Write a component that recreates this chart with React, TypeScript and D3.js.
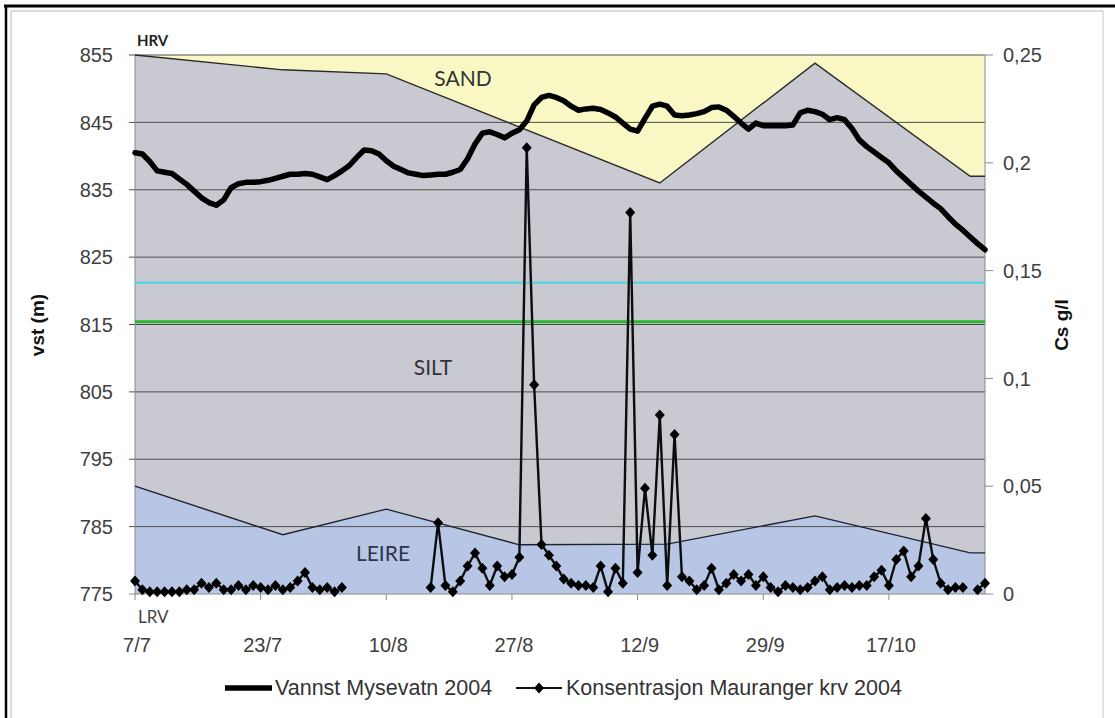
import React from 'react';
import * as d3 from 'd3';

// Daily water level, Mysevatn 2004 (m), one value per category from 7/7
const waterLevel = [
  840.5, 840.3, 839.2, 837.8, 837.6, 837.4, 836.6, 835.8, 834.8, 833.8,
  833.1, 832.7, 833.5, 835.3, 835.9, 836.1, 836.1, 836.2, 836.4, 836.7,
  837.0, 837.3, 837.3, 837.4, 837.3, 836.9, 836.5, 837.1, 837.8, 838.6,
  839.8, 840.9, 840.8, 840.3, 839.3, 838.5, 838.0, 837.5, 837.3, 837.1,
  837.2, 837.3, 837.3, 837.6, 838.0, 839.6, 841.8, 843.4, 843.6, 843.2,
  842.7, 843.4, 843.9, 845.2, 847.6, 848.7, 849.0, 848.7, 848.2, 847.4,
  846.8, 847.0, 847.1, 846.9, 846.4, 845.8, 844.9, 844.0, 843.7, 845.6,
  847.4, 847.7, 847.4, 846.1, 846.0, 846.1, 846.3, 846.6, 847.2, 847.3,
  846.8, 845.9, 844.9, 844.0, 844.9, 844.5, 844.5, 844.5, 844.5, 844.6,
  846.4, 846.8, 846.6, 846.2, 845.4, 845.7, 845.4, 844.1, 842.4, 841.4,
  840.6, 839.8, 839.0, 837.8, 836.8, 835.8, 834.8, 833.9, 833.0, 832.2,
  831.0, 829.9, 829.0, 828.0, 827.0, 826.1,
];

// Concentration Mauranger krv 2004 (g/l), null = no sample
const concentration = [
  0.006, 0.002, 0.001, 0.001, 0.001, 0.001, 0.001, 0.002, 0.002, 0.005,
  0.003, 0.005, 0.002, 0.002, 0.004, 0.002, 0.004, 0.003, 0.002, 0.004,
  0.002, 0.003, 0.006, 0.010, 0.003, 0.002, 0.003, 0.001, 0.003, null,
  null, null, null, null, null, null, null, null, null, null,
  0.003, 0.033, 0.004, 0.001, 0.006, 0.013, 0.019, 0.012, 0.004, 0.013,
  0.008, 0.009, 0.017, 0.207, 0.097, 0.023, 0.018, 0.013, 0.007, 0.005,
  0.004, 0.004, 0.003, 0.013, 0.001, 0.012, 0.005, 0.177, 0.010, 0.049,
  0.018, 0.083, 0.004, 0.074, 0.008, 0.006, 0.002, 0.004, 0.012, 0.002,
  0.005, 0.009, 0.006, 0.009, 0.004, 0.008, 0.003, 0.001, 0.004, 0.003,
  0.002, 0.003, 0.006, 0.008, 0.002, 0.003, 0.004, 0.003, 0.004, 0.004,
  0.008, 0.011, 0.004, 0.016, 0.020, 0.008, 0.013, 0.035, 0.016, 0.005,
  0.002, 0.003, 0.003, null, 0.002, 0.005,
];

// Zone boundaries: [category index, level m]
const sandBoundary = [[0, 855], [20, 852.8], [34, 852.2], [71, 836], [92, 853.8], [113, 837], [115, 837]];
const clayBoundary = [[0, 791], [20, 783.8], [34, 787.6], [52, 782.3], [72, 782.4], [92, 786.6], [113, 781.1], [115, 781.1]];

const cyanLevel = 821.2;
const greenLevel = 815.4;

const leftTicks = [775, 785, 795, 805, 815, 825, 835, 845, 855];
const rightTicks = [0, 0.05, 0.1, 0.15, 0.2, 0.25];
const dateLabels = ['7/7', '23/7', '10/8', '27/8', '12/9', '29/9', '17/10'];
const labelEvery = 17;

const ARIAL = '"Liberation Sans", Arial, sans-serif';
const CALIBRI = 'Lato, "Open Sans", sans-serif';

const diamond = 'M0,-5.5L5,0L0,5.5L-5,0Z';

export default function App() {
  const W = 1115, H = 718;
  const pl = 135, pr = 985, pt = 55, pb = 594;

  const x = d3.scaleLinear().domain([0, waterLevel.length - 1]).range([pl, pr]);
  const yL = d3.scaleLinear().domain([775, 855]).range([pb, pt]);
  const yR = d3.scaleLinear().domain([0, 0.25]).range([pb, pt]);

  const sandArea = d3.area<number[]>().x(d => x(d[0])).y0(yL(855)).y1(d => yL(d[1]));
  const belowArea = d3.area<number[]>().x(d => x(d[0])).y0(yL(775)).y1(d => yL(d[1]));
  const boundLine = d3.line<number[]>().x(d => x(d[0])).y(d => yL(d[1]));

  const levelLine = d3.line<number>().x((_, i) => x(i)).y(d => yL(d));
  const concLine = d3.line<number | null>()
    .defined(d => d != null)
    .x((_, i) => x(i))
    .y(d => yR(d as number));

  const fmtR = (v: number) => String(v).replace('.', ',');

  return (
    <svg width={W} height={H} style={{ position: 'absolute', left: 0, top: 0, display: 'block', background: '#fff' }}>
      {/* frame */}
      <line x1={4} x2={W} y1={6} y2={6} stroke="#000" strokeWidth={3} />
      <line x1={6} x2={6} y1={5} y2={H} stroke="#000" strokeWidth={2.5} />
      <line x1={11} x2={11} y1={11} y2={H} stroke="#b8b8b8" strokeWidth={1} />
      <line x1={11} x2={1103} y1={11} y2={11} stroke="#b8b8b8" strokeWidth={1} />
      <line x1={1103} x2={1103} y1={11} y2={H} stroke="#c8c8c8" strokeWidth={1} />

      {/* zones */}
      <path d={sandArea(sandBoundary) || ''} fill="#f9f8c4" />
      <path d={belowArea(sandBoundary) || ''} fill="#c8c9d1" />
      <path d={belowArea(clayBoundary) || ''} fill="#b8c6e6" />

      {/* grid */}
      {leftTicks.map(t => (
        <g key={t}>
          <line x1={pl - 6} x2={pr} y1={yL(t)} y2={yL(t)} stroke={t === 775 ? '#8a8a8a' : '#4e4e4e'} strokeWidth={1} />
          <text x={113} y={yL(t)} dy="0.36em" textAnchor="end" fontFamily={ARIAL} fontSize={20} fill="#404040">{t}</text>
        </g>
      ))}
      <line x1={pl} x2={pl} y1={pt} y2={pb} stroke="#8a8a8a" strokeWidth={1} />
      <line x1={pr} x2={pr} y1={pt} y2={pb} stroke="#8a8a8a" strokeWidth={1} />
      {rightTicks.map(t => (
        <g key={t}>
          <line x1={pr} x2={pr + 8} y1={yR(t)} y2={yR(t)} stroke="#8a8a8a" strokeWidth={1} />
          <text x={1003} y={yR(t)} dy="0.36em" fontFamily={ARIAL} fontSize={20} fill="#404040">{fmtR(t)}</text>
        </g>
      ))}
      {dateLabels.map((lab, k) => (
        <g key={lab}>
          <line x1={x(k * labelEvery)} x2={x(k * labelEvery)} y1={pb} y2={pb + 6} stroke="#8a8a8a" strokeWidth={1} />
          <text x={x(k * labelEvery) + 2} y={652} textAnchor="middle" fontFamily={ARIAL} fontSize={20} fill="#404040">{lab}</text>
        </g>
      ))}

      {/* reference levels */}
      <line x1={pl} x2={pr} y1={yL(cyanLevel)} y2={yL(cyanLevel)} stroke="#49d6e6" strokeWidth={2} />
      <line x1={pl} x2={pr} y1={yL(greenLevel)} y2={yL(greenLevel)} stroke="#2eb52e" strokeWidth={3} />

      {/* zone boundary lines */}
      <path d={boundLine(sandBoundary) || ''} fill="none" stroke="#2a2a2a" strokeWidth={1.4} />
      <path d={boundLine(clayBoundary) || ''} fill="none" stroke="#1e2130" strokeWidth={1.4} />

      {/* zone labels */}
      <text x={463} y={86} textAnchor="middle" fontFamily={CALIBRI} fontSize={21} fill="#333">SAND</text>
      <text x={433} y={375} textAnchor="middle" fontFamily={CALIBRI} fontSize={21} fill="#333">SILT</text>
      <text x={383} y={561} textAnchor="middle" fontFamily={CALIBRI} fontSize={21} fill="#2c3446">LEIRE</text>
      <text x={137} y={46} fontFamily={CALIBRI} fontSize={15} fontWeight={700} fill="#222">HRV</text>
      <text x={138} y={623} fontFamily={CALIBRI} fontSize={17} fill="#444">LRV</text>

      {/* water level */}
      <path d={levelLine(waterLevel) || ''} fill="none" stroke="#000" strokeWidth={5.5} strokeLinejoin="round" strokeLinecap="round" />

      {/* concentration */}
      <path d={concLine(concentration) || ''} fill="none" stroke="#0d0d0d" strokeWidth={2.4} strokeLinejoin="round" />
      {concentration.map((c, i) => c == null ? null : (
        <path key={i} d={diamond} transform={`translate(${x(i)},${yR(c)})`} fill="#000" />
      ))}

      {/* axis titles */}
      <text transform="translate(44,325) rotate(-90)" textAnchor="middle" fontFamily={ARIAL} fontSize={19} fontWeight={700} fill="#111">vst (m)</text>
      <text transform="translate(1068,325) rotate(-90)" textAnchor="middle" fontFamily={ARIAL} fontSize={19} fontWeight={700} fill="#111">Cs g/l</text>

      {/* legend */}
      <line x1={225} x2={272} y1={688} y2={688} stroke="#000" strokeWidth={5.5} />
      <text x={275} y={695} fontFamily={ARIAL} fontSize={21.5} fill="#333">Vannst Mysevatn 2004</text>
      <line x1={516} x2={562} y1={688} y2={688} stroke="#111" strokeWidth={2} />
      <path d={diamond} transform="translate(539,688)" fill="#000" />
      <text x={566} y={695} fontFamily={ARIAL} fontSize={21.5} fill="#333">Konsentrasjon Mauranger krv 2004</text>
    </svg>
  );
}
